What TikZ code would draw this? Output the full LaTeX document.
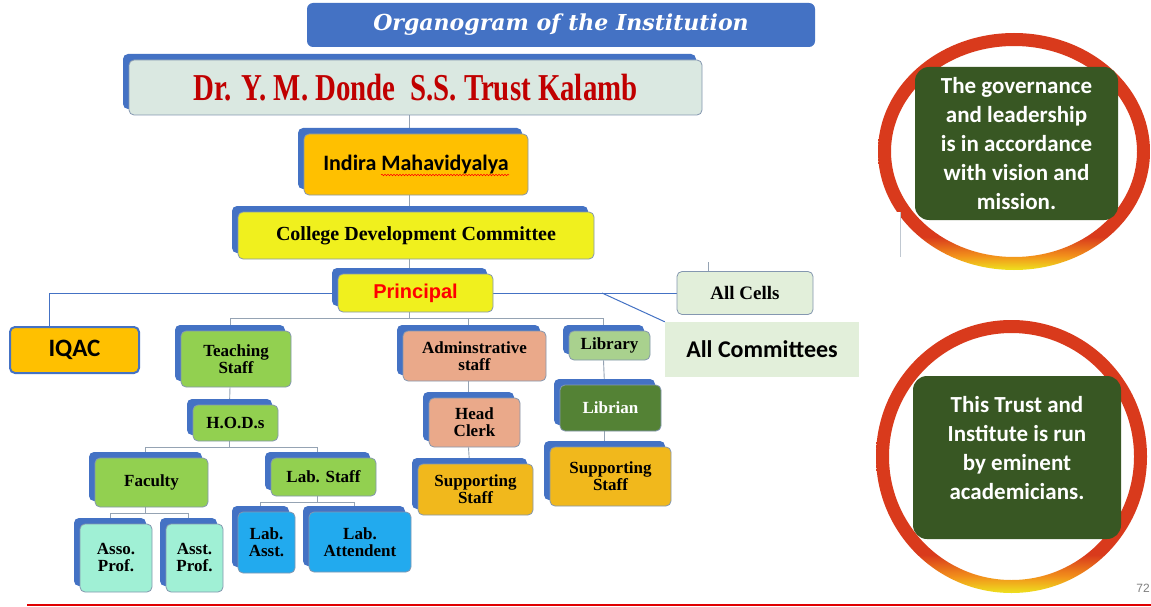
\documentclass[tikz,border=0pt]{standalone}
\usepackage{fontspec}
\setmainfont{Liberation Serif}
\newfontfamily\calibrifont{Carlito}
\newfontfamily\arialfont{Liberation Sans}
\newfontfamily\slabfont{DejaVu Serif}
\newfontfamily\narrowfont[FakeStretch=0.76]{Liberation Serif}
\usetikzlibrary{shadows,backgrounds,decorations.pathmorphing}

\definecolor{shblue}{HTML}{4472C4}
\definecolor{boxline}{HTML}{8497B0}
\definecolor{treegrey}{HTML}{95A3B3}
\definecolor{trustfill}{HTML}{DAE8E1}
\definecolor{trustred}{HTML}{C00000}
\definecolor{orangefill}{HTML}{FFC000}
\definecolor{yellowfill}{HTML}{F0F01E}
\definecolor{greenfill}{HTML}{92D050}
\definecolor{salmonfill}{HTML}{EAA98A}
\definecolor{libfill}{HTML}{A9D18E}
\definecolor{darkgreen}{HTML}{548235}
\definecolor{goldfill}{HTML}{F1B81C}
\definecolor{aquafill}{HTML}{A0F0D5}
\definecolor{cyanfill}{HTML}{22AAEE}
\definecolor{palegreen}{HTML}{E2EFDA}
\definecolor{mossgreen}{HTML}{385723}
\definecolor{ringred}{HTML}{D93A1C}
\definecolor{ringorange}{HTML}{F2911B}
\definecolor{ringyellow}{HTML}{EEE21E}
\definecolor{rulered}{HTML}{E00000}

\pgfdeclareverticalshading{ringfade}{100bp}{color(0bp)=(ringyellow); color(25bp)=(ringyellow); color(28bp)=(ringorange); color(32bp)=(ringred); color(100bp)=(ringred)}

\newcommand\orgfont{\bfseries\fontsize{17}{17}\selectfont}

\tikzset{
  orgbox/.style={draw=boxline, line width=0.8pt, rounded corners=5pt, align=center,
    inner sep=2pt, text=black, font=\orgfont,
    general shadow={fill=shblue, shadow xshift=-6pt, shadow yshift=6pt}},
  plainbox/.style={rounded corners=5pt, align=center, inner sep=2pt, text=black},
  tree/.style={treegrey, line width=0.9pt},
  bluelink/.style={shblue, line width=1pt},
  greenbox/.style={fill=mossgreen, rounded corners=14pt},
  greentext/.style={text=white, align=center, font=\calibrifont\bfseries\fontsize{23}{29}\selectfont},
}

\begin{document}
\begin{tikzpicture}[x=1pt,y=-1pt]
\useasboundingbox (0,0) rectangle (1151,607);

% heading
\node[fill=shblue, rounded corners=6pt, minimum width=508pt, minimum height=44pt,
  text=white, font=\slabfont\bfseries\itshape\fontsize{22}{22}\selectfont] (title) at (561,25) {Organogram of the Institution};

% trunk
\node[orgbox, fill=trustfill, minimum width=573pt, minimum height=55pt, text=trustred,
  font=\narrowfont\bfseries\fontsize{38}{38}\selectfont] (trust) at (415.5,87.5) {Dr. Y. M. Donde~~S.S. Trust Kalamb};
\node[orgbox, fill=orangefill, minimum width=224pt, minimum height=61pt,
  font=\calibrifont\bfseries\fontsize{22}{22}\selectfont] (indira) at (416,164.5) {Indira Mahavidyalya};
\draw[red, line width=0.5pt, decorate, decoration={snake, amplitude=0.8pt, segment length=3pt}]
  ([xshift=-35pt,yshift=-10.5pt]indira.center) -- ([xshift=93pt,yshift=-10.5pt]indira.center);
\node[orgbox, fill=yellowfill, minimum width=356pt, minimum height=47pt,
  font=\bfseries\fontsize{20}{20}\selectfont] (cdc) at (416,235.5) {College Development Committee};
\node[orgbox, fill=yellowfill, minimum width=155pt, minimum height=38pt, text=red,
  font=\arialfont\bfseries\fontsize{20}{20}\selectfont] (principal) at (415.5,293) {Principal};

% side boxes
\node[plainbox, fill=orangefill, draw=shblue, line width=2pt, minimum width=129pt, minimum height=46pt,
  font=\calibrifont\bfseries\fontsize{25}{25}\selectfont] (iqac) at (74.5,350) {IQAC};
\node[plainbox, fill=palegreen, draw=boxline, line width=0.8pt, minimum width=136pt, minimum height=43pt,
  font=\bfseries\fontsize{19}{19}\selectfont] (allcells) at (745,293) {All Cells};
\node[fill=palegreen, minimum width=194pt, minimum height=55pt, text=black,
  font=\calibrifont\bfseries\fontsize{24}{24}\selectfont] (allcomm) at (762,349.5) {All Committees};

% staff
\node[orgbox, fill=greenfill, minimum width=110pt, minimum height=56pt] (teaching) at (236,359) {Teaching\\Staff};
\node[orgbox, fill=greenfill, minimum width=85pt, minimum height=36pt] (hods) at (235.5,423) {H.O.D.s};
\node[orgbox, fill=greenfill, minimum width=113pt, minimum height=49pt] (faculty) at (151.5,482.5) {Faculty};
\node[orgbox, fill=greenfill, minimum width=105pt, minimum height=38pt] (labstaff) at (323.5,477) {Lab. Staff};
\node[orgbox, fill=aquafill, minimum width=72pt, minimum height=68pt] (asso) at (116,558) {Asso.\\Prof.};
\node[orgbox, fill=aquafill, minimum width=57pt, minimum height=68pt] (asst) at (194.5,558) {Asst.\\Prof.};
\node[orgbox, fill=cyanfill, minimum width=57pt, minimum height=61pt] (labasst) at (266.5,542.5) {Lab.\\Asst.};
\node[orgbox, fill=cyanfill, minimum width=102pt, minimum height=60pt] (labatt) at (360,542) {Lab.\\Attendent};

\node[orgbox, fill=salmonfill, minimum width=143pt, minimum height=50pt] (admin) at (474.5,356) {Adminstrative\\staff};
\node[orgbox, fill=salmonfill, minimum width=91pt, minimum height=49pt] (headclerk) at (474.5,422.5) {Head\\Clerk};
\node[orgbox, fill=goldfill, minimum width=115pt, minimum height=51pt] (supadmin) at (475.5,489.5) {Supporting\\Staff};

\node[orgbox, fill=libfill, minimum width=81pt, minimum height=29pt] (library) at (609.5,345.5) {Library};
\node[orgbox, fill=darkgreen, minimum width=101pt, minimum height=46pt, text=white] (librian) at (610.5,408) {Librian};
\node[orgbox, fill=goldfill, minimum width=121pt, minimum height=59pt] (suplib) at (610.5,476.5) {Supporting\\Staff};

% connectors
\coordinate (bus0) at (409.5,318);
\coordinate (bus1) at (229.5,447);
\coordinate (bus2) at (145.5,513);
\coordinate (bus3) at (317.5,502);
\coordinate (iqacturn) at (49,293);
\coordinate (split) at (602,293);
\coordinate (celltop) at (708,262);
\begin{scope}[on background layer]
\fill[white] (0,0) rectangle (1151,607);
\draw[tree] ([xshift=-6pt]trust.south) -- ([xshift=-6pt]principal.north);
\draw[tree] (bus0 |- principal.south) -- (bus0);
\draw[tree] (bus0) -| ([xshift=-6pt]teaching.north);
\draw[tree] (bus0) -| ([xshift=-6pt]admin.north);
\draw[tree] (bus0) -| ([xshift=-6pt]library.north);
\draw[tree] ([xshift=-6pt]teaching.south) -- ([xshift=-6pt]hods.north);
\draw[tree] (bus1 |- hods.south) -- (bus1);
\draw[tree] (bus1) -| ([xshift=-6pt]faculty.north);
\draw[tree] (bus1) -| ([xshift=-6pt]labstaff.north);
\draw[tree] (bus2 |- faculty.south) -- (bus2);
\draw[tree] (bus2) -| ([xshift=-6pt]asso.north);
\draw[tree] (bus2) -| ([xshift=-6pt]asst.north);
\draw[tree] (bus3 |- labstaff.south) -- (bus3);
\draw[tree] (bus3) -| ([xshift=-6pt]labasst.north);
\draw[tree] (bus3) -| ([xshift=-6pt]labatt.north);
\draw[tree] ([xshift=-6pt]admin.south) -- ([xshift=-6pt]headclerk.north);
\draw[tree] ([xshift=-6pt]headclerk.south) -- ([xshift=-6pt]supadmin.north);
\draw[tree] ([xshift=-6pt]library.south) -- ([xshift=-6pt]librian.north);
\draw[tree] ([xshift=-6pt]librian.south) -- ([xshift=-6pt]suplib.north);
\draw[tree] (celltop) -- (celltop |- allcells.north);
\draw[bluelink] (principal.west) -- (iqacturn) -- (iqacturn |- iqac.north);
\draw[bluelink] (principal.east) -- (allcells.west);
\draw[bluelink] (split) -- (allcomm.north west);
\end{scope}

% rings
\shade[shading=ringfade, even odd rule] (1014,151.5) ellipse [x radius=136pt, y radius=118.5pt]
  (1014,151.5) ellipse [x radius=123pt, y radius=105.5pt];
\fill[white] (860,212) rectangle (900,257);
\draw[treegrey!60, line width=0.6pt] (900,212) -- (900,257);
\shade[shading=ringfade, even odd rule] (1011.5,456.5) ellipse [x radius=135.5pt, y radius=136.5pt]
  (1011.5,456.5) ellipse [x radius=122.5pt, y radius=123.5pt];

\node[greenbox, minimum width=203pt, minimum height=153pt] (vision) at (1016.5,143.5) {};
\node[greentext] (visiontext) at (vision) {The governance\\and leadership\\is in accordance\\with vision and\\mission.};
\node[greenbox, minimum width=208pt, minimum height=163pt] (eminent) at (1017,457.5) {};
\node[greentext] (eminenttext) at (1017,448) {This Trust and\\Institute is run\\by eminent\\academicians.};

% footer
\coordinate (ruleL) at (27,605);
\coordinate (ruleR) at (1151,605);
\draw[rulered, line width=2pt] (ruleL) -- (ruleR);
\node[anchor=east, text=gray, inner sep=0pt, font=\arialfont\fontsize{12}{12}\selectfont] (pagenum) at (1150,588) {72};
\end{tikzpicture}
\end{document}
